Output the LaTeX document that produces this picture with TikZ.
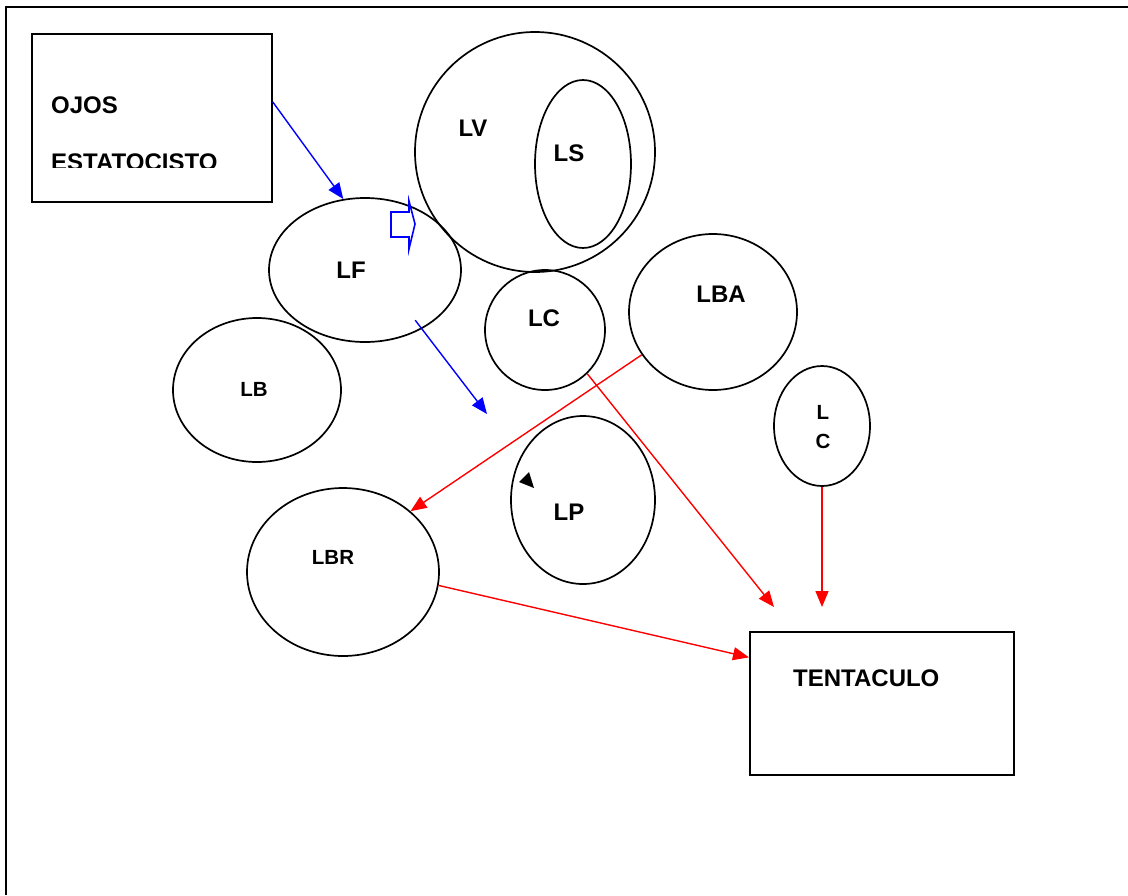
\documentclass[tikz,border=0pt]{standalone}
\usepackage{fontspec}
\setmainfont{Liberation Sans}
\usetikzlibrary{shapes.geometric,arrows.meta}
\begin{document}
\begin{tikzpicture}[x=1pt,y=-1pt,
  shapeline/.style={draw=black,line width=1.7pt},
  oval/.style={shapeline,ellipse,inner sep=0pt},
  lbl/.style={font=\bfseries\fontsize{24}{26}\selectfont},
  lbls/.style={font=\bfseries\fontsize{20.5}{22}\selectfont},
  bluearrow/.style={draw={rgb,255:red,0;green,0;blue,255},line width=1.4pt,-{Triangle[length=16pt,width=13pt]}},
  redarrow/.style={draw={rgb,255:red,255;green,0;blue,0},line width=1.4pt,-{Triangle[length=16pt,width=13pt]}}]
\useasboundingbox (0,0) rectangle (1128,895);
\fill[white] (0,0) rectangle (1128,895);
% outer frame
\draw[line width=1.7pt] (6,895) -- (6,7) -- (1128,7);
% boxes
\node[shapeline,rectangle,minimum width=240pt,minimum height=168pt,anchor=north west] (ojos) at (31,33) {};
\begin{scope}
\clip (35,80) rectangle (268,167);
\node[lbl,anchor=base west,inner sep=0pt] (ojostxt) at (51,113) {OJOS};
\node[lbl,anchor=base west,inner sep=0pt] (estxt) at (51,170) {ESTATOCISTO};
\end{scope}
\node[shapeline,rectangle,minimum width=264pt,minimum height=143pt,anchor=north west] (tent) at (749,631) {};
\node[lbl,anchor=base west,inner sep=0pt] (tenttxt) at (793,686) {TENTACULO};
% ovals
\node[oval,minimum width=240pt,minimum height=240pt] (lv) at (535,152) {};
\node[oval,minimum width=96pt,minimum height=168pt] (ls) at (583,164) {};
\node[oval,minimum width=192pt,minimum height=144pt] (lf) at (365,270) {};
\node[oval,minimum width=120pt,minimum height=120pt] (lc) at (545,330) {};
\node[oval,minimum width=168pt,minimum height=156pt] (lba) at (713,312) {};
\node[oval,minimum width=168pt,minimum height=144pt] (lb) at (257,390) {};
\node[oval,minimum width=96pt,minimum height=120pt] (lcc) at (822,426) {};
\node[oval,minimum width=144pt,minimum height=168pt] (lp) at (583,500) {};
\node[oval,minimum width=192pt,minimum height=168pt] (lbr) at (343,572) {};
% labels
\node[lbl] (lvt) at (473,128) {LV};
\node[lbl] (lst) at (569,153) {LS};
\node[lbl] (lft) at (351,270) {LF};
\node[lbl] (lct) at (544,318) {LC};
\node[lbl] (lbat) at (721,294) {LBA};
\node[lbls] (lbt) at (254,389) {LB};
\node[lbls] (lbrt) at (333,557) {LBR};
\node[lbls] (lcct1) at (823,412) {L};
\node[lbls] (lcct2) at (823,441) {C};
\node[lbl] (lpt) at (569,512) {LP};
% free ends
\coordinate (b2end) at (487,414);
\coordinate (r2end) at (774,607);
\coordinate (r3end) at (822,607);
% blue arrows
\draw[bluearrow] ([yshift=16pt]ojos.east) -- (lf.107);
\draw[bluearrow] ([shift={(-8,-8)}]lf.-45) -- (b2end);
% blue block arrow
\draw[draw={rgb,255:red,0;green,0;blue,255},line width=1.6pt] (391,212) -- (409,212) -- (409,201) -- (415,224) -- (409,249) -- (409,237) -- (391,237) -- cycle;
% black small arrowhead
\fill[black] (519,482) -- (529,472) -- (534,488) -- cycle;
% red arrows
\draw[redarrow] (lba.211) -- (lbr.42);
\draw[redarrow] (lc.-46) -- (r2end);
\draw[redarrow] (lcc.south) -- (r3end);
\draw[redarrow] (lbr.-8) -- ([yshift=46pt]tent.west);
\end{tikzpicture}
\end{document}
